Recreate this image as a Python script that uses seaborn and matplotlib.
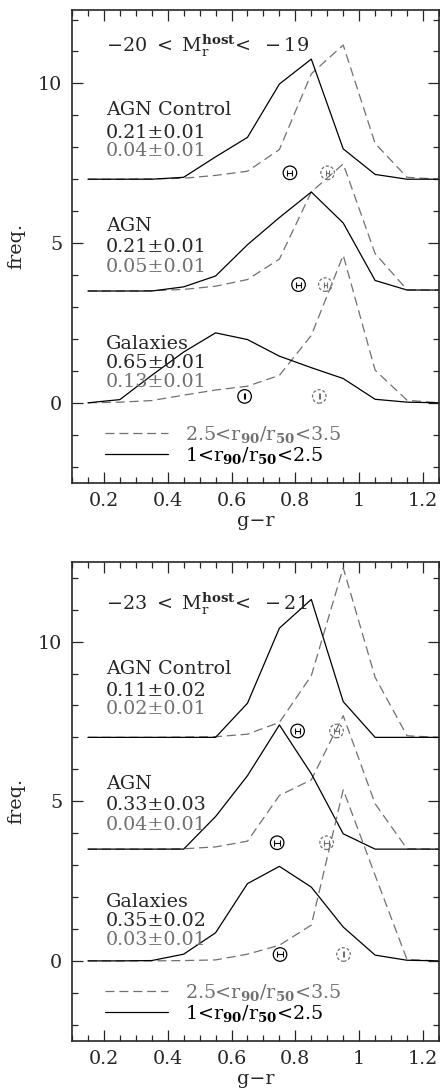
import numpy as np
import matplotlib
matplotlib.use("Agg")
import matplotlib.pyplot as plt
from matplotlib.lines import Line2D
from matplotlib.ticker import MultipleLocator, FuncFormatter
import seaborn as sns

# bin centres in g-r
bins = [0.15, 0.25, 0.35, 0.45, 0.55, 0.65, 0.75, 0.85, 0.95, 1.05, 1.15, 1.25]

# -20 < M < -19  (solid: 1<r90/r50<2.5, dashed: 2.5<r90/r50<3.5)
ctrl_late_top = [0, 0, 0, 0.06, 0.7, 1.31, 2.98, 3.76, 0.95, 0.15, 0.0, 0.0]
ctrl_early_top = [0, 0, 0.01, 0.03, 0.12, 0.25, 0.93, 3.3, 4.2, 1.12, 0.06, 0.0]
agn_late_top = [0, 0, 0, 0.13, 0.47, 1.45, 2.3, 3.1, 2.13, 0.33, 0.03, 0.03]
agn_early_top = [0, 0, 0.01, 0.05, 0.15, 0.36, 1.0, 3.1, 3.98, 1.17, 0.04, 0.03]
gal_late_top = [0, 0.1, 0.86, 1.59, 2.19, 1.98, 1.46, 1.1, 0.76, 0.11, 0.02, 0.0]
gal_early_top = [0, 0.02, 0.07, 0.24, 0.4, 0.52, 0.86, 2.11, 4.62, 1.02, 0.08, 0.0]

# -23 < M < -21
ctrl_late_bot = [0, 0, 0, 0, 0, 1.07, 3.42, 4.32, 1.12, 0, 0, 0]
ctrl_early_bot = [0, 0, 0, 0.01, 0.02, 0.1, 0.47, 1.93, 5.31, 1.88, 0.05, 0]
agn_late_bot = [0, 0, 0, 0, 1.02, 2.3, 3.89, 2.36, 0.48, 0, 0, 0]
agn_early_bot = [0, 0, 0, 0.01, 0.07, 0.25, 1.68, 2.17, 4.18, 1.42, 0.01, 0]
gal_late_bot = [0, 0, 0.01, 0.21, 0.88, 2.42, 2.96, 2.31, 1.06, 0.18, 0.02, 0]
gal_early_bot = [0, 0, 0, 0.01, 0.03, 0.21, 0.49, 1.12, 5.36, 2.68, 0.04, 0]

offsets = [7.0, 3.5, 0.0]
names = ["AGN Control", "AGN", "Galaxies"]

# mean colours (circle markers) and their errors
mean_late_top = [0.783, 0.810, 0.641]
mean_early_top = [0.901, 0.894, 0.875]
err_late_top = [0.008, 0.008, 0.002]
err_early_top = [0.004, 0.004, 0.002]
mean_late_bot = [0.807, 0.743, 0.752]
mean_early_bot = [0.929, 0.898, 0.951]
err_late_bot = [0.009, 0.009, 0.009]
err_early_bot = [0.009, 0.009, 0.002]
mean_level = [7.2, 3.7, 0.2]

# fractions quoted in the panels
frac_late_top = ["0.21±0.01", "0.21±0.01", "0.65±0.01"]
frac_early_top = ["0.04±0.01", "0.05±0.01", "0.13±0.01"]
frac_late_bot = ["0.11±0.02", "0.33±0.03", "0.35±0.02"]
frac_early_bot = ["0.02±0.01", "0.04±0.01", "0.03±0.01"]

titles = [r"$-20\ <\ \mathrm{M}_{\mathrm{r}}^{\mathbf{host}}\!<\ -19$",
          r"$-23\ <\ \mathrm{M}_{\mathrm{r}}^{\mathbf{host}}\!<\ -21$"]
legend_labels = [r"2.5<r$_{\mathbf{90}}$/r$_{\mathbf{50}}$<3.5",
                 r"1<r$_{\mathbf{90}}$/r$_{\mathbf{50}}$<2.5"]

sns.set_style("ticks")
plt.rcParams["font.family"] = ["DejaVu Serif"]
plt.rcParams["mathtext.fontset"] = "dejavuserif"
plt.rcParams["lines.scale_dashes"] = False

gray = "#707070"
fs = 13.8

fig = plt.figure(figsize=(4.4, 10.91), dpi=100)
ax_top = fig.add_axes([0.1636, 0.5576, 0.834, 0.4333])
ax_bot = fig.add_axes([0.1636, 0.0461, 0.834, 0.439])

panels = [
    (ax_top, [ctrl_late_top, agn_late_top, gal_late_top],
     [ctrl_early_top, agn_early_top, gal_early_top],
     mean_late_top, mean_early_top, err_late_top, err_early_top,
     frac_late_top, frac_early_top, titles[0], 12.3),
    (ax_bot, [ctrl_late_bot, agn_late_bot, gal_late_bot],
     [ctrl_early_bot, agn_early_bot, gal_early_bot],
     mean_late_bot, mean_early_bot, err_late_bot, err_early_bot,
     frac_late_bot, frac_early_bot, titles[1], 12.5),
]

name_y = [9.0, 5.38, 1.7]
late_y = [8.3, 4.73, 1.1]
early_y = [7.72, 4.1, 0.5]

for (ax, lates, earlies, mlate, mearly, elate, eearly,
     flate, fearly, title, ytop) in panels:
    for i in range(3):
        off = offsets[i]
        sns.lineplot(x=bins, y=np.array(earlies[i]) + off, ax=ax, color=gray,
                     linewidth=0.9, dashes=(6.5, 3.5), estimator=None)
        sns.lineplot(x=bins, y=np.array(lates[i]) + off, ax=ax, color="black",
                     linewidth=0.9, estimator=None)

        # mean markers
        sns.scatterplot(x=[mlate[i]], y=[mean_level[i]], ax=ax, s=95, marker="o",
                        color="none", edgecolor="black", linewidth=0.9, zorder=5)
        sns.scatterplot(x=[mearly[i]], y=[mean_level[i]], ax=ax, s=95, marker="o",
                        color="none", edgecolor=gray, linewidth=0.9,
                        linestyle=(0, (2.2, 1.4)), zorder=5)
        ax.errorbar([mlate[i]], [mean_level[i]], xerr=[elate[i]], fmt="none",
                    ecolor="black", elinewidth=0.8, capsize=2.2, capthick=0.8)
        ax.errorbar([mearly[i]], [mean_level[i]], xerr=[eearly[i]], fmt="none",
                    ecolor=gray, elinewidth=0.8, capsize=2.2, capthick=0.8)

        ax.text(0.206, name_y[i], names[i], fontsize=fs, va="baseline")
        ax.text(0.206, late_y[i], flate[i], fontsize=fs, va="baseline")
        ax.text(0.206, early_y[i], fearly[i], fontsize=fs, va="baseline", color=gray)

    ax.text(0.206, 11.0, title, fontsize=fs, va="baseline")

    handles = [Line2D([], [], color=gray, lw=0.9, dashes=(6.5, 3.5)),
               Line2D([], [], color="black", lw=0.9)]
    ax.legend(handles, legend_labels, loc="lower left", bbox_to_anchor=(0.09, 0.035),
              frameon=False, fontsize=fs, handlelength=3.3, handletextpad=0.85,
              labelspacing=0.0, borderpad=0, borderaxespad=0,
              labelcolor=[gray, "black"])

    ax.set_xlim(0.1, 1.25)
    ax.set_ylim(-2.5, ytop)
    ax.xaxis.set_major_locator(MultipleLocator(0.2))
    ax.xaxis.set_minor_locator(MultipleLocator(0.05))
    ax.yaxis.set_major_locator(MultipleLocator(5))
    ax.yaxis.set_minor_locator(MultipleLocator(1))
    ax.xaxis.set_major_formatter(FuncFormatter(lambda v, p: "%g" % round(v, 2)))
    ax.tick_params(which="both", direction="in", top=True, right=True,
                   width=0.9, labelsize=fs)
    ax.tick_params(which="major", length=8, pad=7)
    ax.tick_params(which="minor", length=4.5)
    for sp in ax.spines.values():
        sp.set_linewidth(1.2)
    ax.set_xlabel("g−r", fontsize=fs, labelpad=1)
    ax.set_ylabel("freq.", fontsize=fs, labelpad=9)

fig.savefig("out.png", dpi=100)
